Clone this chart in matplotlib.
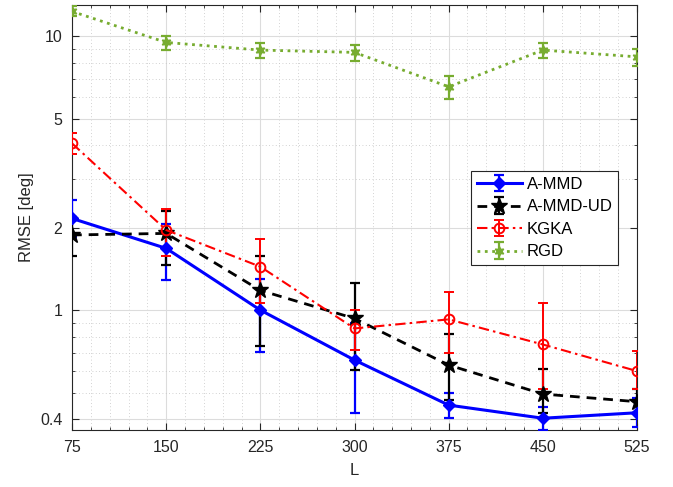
import numpy as np
import matplotlib
matplotlib.use('Agg')
from matplotlib import pyplot as plt
from matplotlib.ticker import FixedLocator, NullFormatter, MultipleLocator

plt.rcParams['font.family'] = ['Liberation Sans', 'DejaVu Sans']
plt.rcParams['font.size'] = 11

# data
L = [75, 150, 225, 300, 375, 450, 525]

ammd = [2.16, 1.68, 1.0, 0.657, 0.45, 0.403, 0.422]
ammd_lo = [1.85, 1.287, 0.705, 0.42, 0.405, 0.365, 0.375]
ammd_hi = [2.52, 2.07, 1.3, 0.9, 0.50, 0.443, 0.479]

ammd_ud = [1.88, 1.905, 1.18, 0.932, 0.63, 0.494, 0.463]
ammd_ud_lo = [1.57, 1.46, 0.739, 0.604, 0.47, 0.422, 0.422]
ammd_ud_hi = [2.19, 2.3, 1.57, 1.26, 0.815, 0.612, 0.514]

kgka = [4.06, 1.96, 1.44, 0.857, 0.925, 0.749, 0.599]
kgka_lo = [3.70, 1.57, 1.06, 0.715, 0.70, 0.514, 0.514]
kgka_hi = [4.44, 2.33, 1.82, 1.0, 1.167, 1.057, 0.709]

rgd = [12.3, 9.48, 8.89, 8.72, 6.53, 8.89, 8.4]
rgd_lo = [11.8, 8.89, 8.3, 8.1, 5.87, 8.3, 7.8]
rgd_hi = [12.9, 10.0, 9.4, 9.27, 7.14, 9.4, 8.96]

labels = ['A-MMD', 'A-MMD-UD', 'KGKA', 'RGD']


def yerr(y, lo, hi):
    y = np.array(y)
    return np.vstack([y - np.array(lo), np.array(hi) - y])


fig = plt.figure(figsize=(6.73, 4.87), dpi=100)
ax = fig.add_axes([0.107, 0.117, 0.8395, 0.873])

green = '#77AC30'
ax.errorbar(L, ammd, yerr=yerr(ammd, ammd_lo, ammd_hi), color='#0000FF', ls='-', lw=2.2,
            marker='D', ms=6, capsize=3.5, capthick=1.6, elinewidth=1.6, label=labels[0], zorder=4)
ax.errorbar(L, ammd_ud, yerr=yerr(ammd_ud, ammd_ud_lo, ammd_ud_hi), color='k', ls=(0, (3.5, 2.5)), lw=2.0,
            marker='*', ms=12, capsize=3.5, capthick=1.6, elinewidth=1.6, label=labels[1], zorder=4)
ax.errorbar(L, kgka, yerr=yerr(kgka, kgka_lo, kgka_hi), color='#FF0000', ls=(0, (5, 2, 1.2, 2)), lw=1.5,
            marker='o', ms=7, mfc='none', mew=1.4, capsize=3.5, capthick=1.4, elinewidth=1.4,
            label=labels[2], zorder=4)
ax.errorbar(L, rgd, yerr=yerr(rgd, rgd_lo, rgd_hi), color=green, ls=':', lw=2.0,
            marker=(6, 1, 0), ms=7, capsize=3.5, capthick=1.6, elinewidth=1.6, label=labels[3], zorder=4)

ax.set_yscale('log')
ax.set_xlim(75, 525)
ax.set_ylim(0.365, 13.0)
ax.set_xticks(L)
ax.xaxis.set_minor_locator(MultipleLocator(15))
ax.yaxis.set_major_locator(FixedLocator([0.4, 1, 2, 5, 10]))
ax.set_yticklabels(['0.4', '1', '2', '5', '10'])
ax.yaxis.set_minor_locator(FixedLocator([0.5, 0.6, 0.7, 0.8, 0.9, 3, 4, 6, 7, 8, 9]))
ax.yaxis.set_minor_formatter(NullFormatter())

axcol = '#262626'
for s in ax.spines.values():
    s.set_color(axcol)
    s.set_linewidth(0.8)
ax.tick_params(which='both', direction='in', top=True, right=True, colors=axcol, labelsize=11.5)
ax.tick_params(which='major', length=5, pad=7)
ax.tick_params(which='minor', length=2.5)

ax.grid(True, which='major', color='#dcdcdc', lw=0.8, ls='-', zorder=0)
ax.grid(True, which='minor', color='#c4c4c4', lw=0.6, ls=(0, (1, 3)), zorder=0)
ax.set_axisbelow(True)

ax.set_xlabel('L', fontsize=12, color=axcol, labelpad=6)
ax.set_ylabel('RMSE [deg]', fontsize=12, color=axcol)

leg = ax.legend(loc='upper left', bbox_to_anchor=(0.706, 0.609), fancybox=False,
                edgecolor='#262626', framealpha=1, fontsize=12, handlelength=2.7,
                borderpad=0.35, labelspacing=0.45, handletextpad=0.3, borderaxespad=0)
leg.get_frame().set_linewidth(0.8)

plt.savefig('out.png', dpi=100)
